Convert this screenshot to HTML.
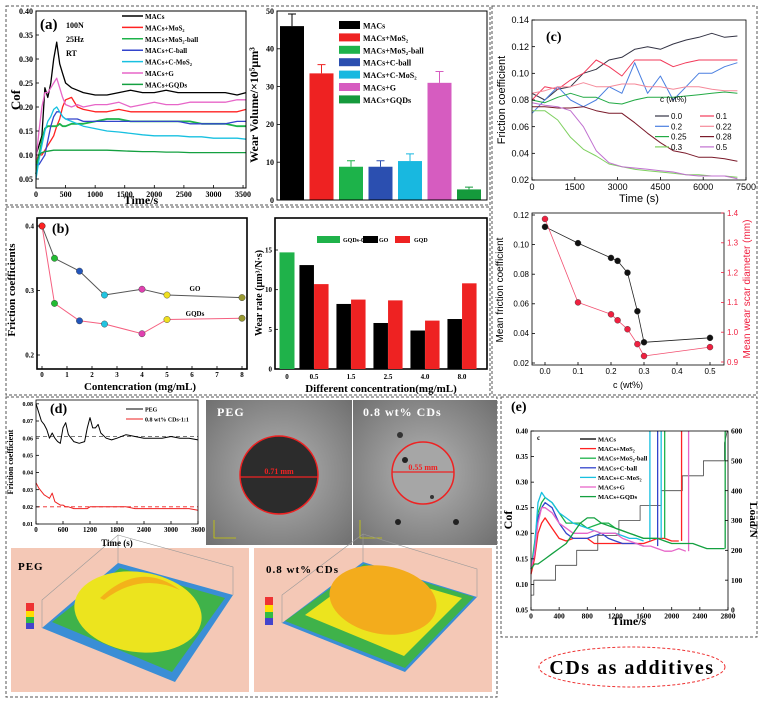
<!DOCTYPE html>
<html><head><meta charset="utf-8">
<style>
html,body{margin:0;padding:0;background:#fff;}
svg{display:block;}
text{font-family:"Liberation Serif",serif;}
.sans{font-family:"Liberation Sans",sans-serif;}
.b{font-weight:bold;}
</style></head>
<body>
<svg id="fig" width="763" height="704" viewBox="0 0 763 704" xmlns="http://www.w3.org/2000/svg">
<defs>
<radialGradient id="micro" cx="50%" cy="50%" r="70%"><stop offset="0" stop-color="#b4b4b4"/><stop offset="1" stop-color="#707070"/></radialGradient>
</defs>
<g fill="none" stroke="#555" stroke-width="1" stroke-dasharray="3,2">
<rect x="6" y="6" width="484" height="199"/>
<rect x="6" y="207" width="484" height="188"/>
<rect x="492" y="6" width="265" height="389"/>
<rect x="6" y="397" width="491" height="300"/>
<rect x="501" y="397" width="256" height="240"/>
</g>
<ellipse cx="632" cy="667" rx="93" ry="20" fill="none" stroke="#e33" stroke-dasharray="3,2"/>
<text x="632" y="674" text-anchor="middle" class="b" font-size="20" letter-spacing="1.5">CDs as additives</text>
<g>
<rect x="206" y="400" width="146" height="145" fill="url(#micro)"/>
<circle cx="279" cy="475" r="39" fill="#2c2c2c" stroke="#e22" stroke-width="1.5"/>
<line x1="240" y1="477" x2="318" y2="477" stroke="#e22" stroke-width="1.2"/>
<text x="279" y="474" text-anchor="middle" fill="#e22" class="b" font-size="8">0.71 mm</text>
<text x="217" y="416" fill="#fff" class="b" font-size="12" letter-spacing="1">PEG</text>
<path d="M214 520 V538 H236" fill="none" stroke="#cc0" stroke-width="0.8"/>
</g>
<g>
<rect x="353" y="400" width="144" height="145" fill="url(#micro)"/>
<circle cx="423" cy="473" r="31" fill="#a6a6a6" stroke="#e22" stroke-width="1.5"/>
<line x1="392" y1="472" x2="454" y2="472" stroke="#e22" stroke-width="1.2"/>
<text x="423" y="470" text-anchor="middle" fill="#e22" class="b" font-size="8">0.55 mm</text>
<text x="363" y="416" fill="#fff" class="b" font-size="12" letter-spacing="1">0.8 wt% CDs</text>
<circle cx="405" cy="460" r="3" fill="#222"/><circle cx="432" cy="497" r="2" fill="#333"/><circle cx="400" cy="435" r="3" fill="#333"/><circle cx="456" cy="522" r="3" fill="#222"/><circle cx="398" cy="522" r="3" fill="#222"/>
<path d="M360 520 V538 H382" fill="none" stroke="#cc0" stroke-width="0.8"/>
</g>
<g>
<rect x="11" y="548" width="238" height="144" fill="#f4c8b6"/>
<path d="M42 628 L118 563 L233 595 L175 682 Z" fill="#3a8ed6"/>
<path d="M52 622 L120 568 L225 598 L172 672 Z" fill="#3fb24a"/>
<ellipse cx="138" cy="612" rx="64" ry="40" transform="rotate(8 138 612)" fill="#ece41e"/>
<path d="M100 598 Q140 560 180 590 Q140 572 104 600 Z" fill="#f3b21a"/>
<path d="M42 628 L42 600 L118 535 L118 563 M118 535 L233 567 L233 595" fill="none" stroke="#999" stroke-width="0.6"/>
<text x="18" y="570" class="b" font-size="11" letter-spacing="1">PEG</text>
<rect x="26" y="603" width="8" height="26" fill="#e33"/><rect x="26" y="611" width="8" height="6" fill="#fd0"/><rect x="26" y="617" width="8" height="6" fill="#3b4"/><rect x="26" y="623" width="8" height="6" fill="#44c"/>
</g>
<g>
<rect x="254" y="548" width="238" height="144" fill="#f4c8b6"/>
<path d="M282 623 L363 562 L477 597 L405 672 Z" fill="#3a8ed6"/>
<path d="M285 621 L364 564 L474 597 L405 668 Z" fill="#3fb24a"/>
<path d="M305 615 L366 570 L462 598 L404 656 Z" fill="#ece41e"/>
<ellipse cx="383" cy="600" rx="54" ry="34" transform="rotate(10 383 600)" fill="#f3ac1c"/>
<path d="M282 623 L282 595 L363 534 L363 562 M363 534 L477 569 L477 597" fill="none" stroke="#999" stroke-width="0.6"/>
<text x="266" y="573" class="b" font-size="11" letter-spacing="1">0.8 wt% CDs</text>
<rect x="265" y="597" width="8" height="28" fill="#e33"/><rect x="265" y="605" width="8" height="7" fill="#fd0"/><rect x="265" y="612" width="8" height="6" fill="#3b4"/><rect x="265" y="618" width="8" height="7" fill="#44c"/>
</g>
</svg>
<script>
const NS='http://www.w3.org/2000/svg';
const svg=document.getElementById('fig');
function mk(tag,attrs){const e=document.createElementNS(NS,tag);for(const k in attrs)e.setAttribute(k,attrs[k]);svg.appendChild(e);return e;}
function lin(d0,d1,r0,r1){return v=>r0+(v-d0)*(r1-r0)/(d1-d0);}
function poly(xs,ys,sx,sy,color,w,name){
  const d=xs.map((x,i)=>(i?'L':'M')+sx(x).toFixed(1)+' '+sy(ys[i]).toFixed(1)).join('');
  const p=mk('path',{d:d,fill:'none',stroke:color,'stroke-width':w,'stroke-linejoin':'round'});
  
  
  return p;
}
function txt(x,y,s,size,anchor,cls,fill,name,rot){
  const t=mk('text',{x:x,y:y,'font-size':size,'text-anchor':anchor,fill:fill||'#000'});
  if(cls)t.setAttribute('class',cls);
  if(rot)t.setAttribute('transform','rotate('+rot+' '+x+' '+y+')');
  t.textContent=s;
  
  
  return t;
}
function frame(x0,y0,x1,y1,w,name){
  const r=mk('rect',{x:x0,y:y0,width:x1-x0,height:y1-y0,fill:'none',stroke:'#000','stroke-width':w});
  
  
}
function xTicks(vals,labels,sx,y,size,cls,name){
  vals.forEach((v,i)=>{
    const l=mk('line',{x1:sx(v),x2:sx(v),y1:y,y2:y-3,stroke:'#000','stroke-width':0.8});
    
    
    txt(sx(v),y+size+1,labels[i],size,'middle',cls,'#000',name+'-label');
  });
}
function yTicks(vals,labels,sy,x,size,cls,name,side,fill){
  vals.forEach((v,i)=>{
    const dx=side==='r'?-3:3;
    const l=mk('line',{x1:x,x2:x+dx,y1:sy(v),y2:sy(v),stroke:fill||'#000','stroke-width':0.8});
    
    
    txt(side==='r'?x+3:x-3,sy(v)+size*0.35,labels[i],size,side==='r'?'start':'end',cls,fill,name+'-label');
  });
}
function dot(x,y,r,color,name){
  const c=mk('circle',{cx:x,cy:y,r:r,fill:color,stroke:'#333','stroke-width':0.4});
  
  
}
function bar(x,y0,y1,w,color,name){
  const r=mk('rect',{x:x-w/2,y:Math.min(y0,y1),width:w,height:Math.abs(y1-y0),fill:color});
  
  
}

const aTime=[0,50,100,150,200,250,300,350,400,450,500,600,700,800,1000,1200,1400,1600,1800,2000,2200,2400,2600,2800,3000,3200,3400,3550];
const aNames=['MACs','MACs+MoS\u2082','MACs+MoS\u2082-ball','MACs+C-ball','MACs+C-MoS\u2082','MACs+G','MACs+GQDs'];
const aColors=['#000','#f22','#1db34a','#3344cc','#18c0e0','#e766c8','#14a040'];
const aMACs=[0.10,0.12,0.14,0.24,0.22,0.25,0.30,0.335,0.29,0.27,0.25,0.24,0.235,0.23,0.225,0.225,0.23,0.235,0.23,0.23,0.235,0.23,0.23,0.23,0.23,0.23,0.225,0.23];
const aMoS2=[0.09,0.10,0.10,0.11,0.12,0.13,0.14,0.16,0.175,0.20,0.215,0.22,0.20,0.195,0.19,0.19,0.195,0.19,0.19,0.19,0.19,0.19,0.19,0.19,0.19,0.19,0.19,0.195];
const aMoS2Ball=[0.06,0.10,0.13,0.155,0.16,0.16,0.16,0.16,0.165,0.16,0.16,0.165,0.165,0.165,0.17,0.175,0.175,0.17,0.17,0.17,0.17,0.17,0.17,0.165,0.165,0.165,0.16,0.16];
const aCBall=[0.08,0.08,0.09,0.10,0.13,0.16,0.18,0.19,0.19,0.18,0.175,0.175,0.175,0.17,0.17,0.17,0.17,0.17,0.17,0.17,0.17,0.17,0.165,0.165,0.165,0.165,0.17,0.17];
const aCMoS2=[0.05,0.09,0.12,0.15,0.17,0.18,0.195,0.20,0.19,0.18,0.175,0.17,0.165,0.16,0.155,0.15,0.148,0.145,0.142,0.14,0.14,0.14,0.138,0.138,0.135,0.135,0.135,0.133];
const aG=[0.09,0.15,0.20,0.23,0.23,0.24,0.25,0.26,0.24,0.22,0.205,0.20,0.205,0.20,0.205,0.205,0.21,0.20,0.205,0.21,0.205,0.205,0.21,0.21,0.21,0.21,0.215,0.215];
const aGQDs=[0.08,0.10,0.105,0.107,0.108,0.109,0.11,0.11,0.11,0.11,0.11,0.11,0.11,0.11,0.11,0.11,0.109,0.108,0.107,0.107,0.106,0.106,0.105,0.105,0.105,0.105,0.105,0.105];
const aXTicks=[0,500,1000,1500,2000,2500,3000,3500];
const aYTicks=[0.05,0.10,0.15,0.20,0.25,0.30,0.35,0.40];
const aBarVals=[46,33.5,8.8,8.8,10.3,31,2.8];
const aBarErr=[3.2,2.3,1.6,1.6,1.9,3,0.6];
const aBarColors=['#000','#ee2222','#1db34a','#2b4fb0','#18b8e0','#d65cc0','#159a3c'];
const aBarYTicks=[0,10,20,30,40,50];

const xA=lin(0,3550,36,246), yA=lin(0.05,0.40,179,11);
[aMACs,aMoS2,aMoS2Ball,aCBall,aCMoS2,aG,aGQDs].forEach((s,i)=>poly(aTime,s,xA,yA,aColors[i],i===2?1.8:1.3,'series-a-'+i));
frame(36,11,246,188,1,'panel-a-plot-frame');
xTicks(aXTicks,aXTicks.map(String),xA,188,8,'b','panel-a-x-tick');
yTicks(aYTicks,aYTicks.map(v=>v.toFixed(2)),yA,36,8,'b','panel-a-y-tick');
txt(141,204,'Time/s',12,'middle','b','#000','panel-a-x-title');
txt(20,100,'Cof',13,'middle','b','#000','panel-a-y-title',-90);
txt(40,29,'(a)',15,'start','b','#000','panel-a-letter');
txt(66,28,'100N',8,'start','b','#000','panel-a-cond-load');
txt(66,42,'25Hz',8,'start','b','#000','panel-a-cond-freq');
txt(66,56,'RT',8,'start','b','#000','panel-a-cond-temp');
aNames.forEach((n,i)=>{
  const y=16+i*11.4;
  const l=mk('line',{x1:122,x2:143,y1:y,y2:y,stroke:aColors[i],'stroke-width':1.5});
  
  
  txt(145,y+3,n,7,'start','b','#000','panel-a-legend-entry');
});
const yAB=lin(0,50,200,11);
const xAB=i=>292+i*29.5;
aBarVals.forEach((v,i)=>{
  bar(xAB(i),yAB(0),yAB(v),24,aBarColors[i],'panel-a-bar-'+i);
  const e=mk('path',{d:'M'+xAB(i)+' '+yAB(v)+'V'+yAB(v+aBarErr[i])+'M'+(xAB(i)-4)+' '+yAB(v+aBarErr[i])+'H'+(xAB(i)+4),stroke:aBarColors[i],'stroke-width':1,fill:'none'});
  
  
});
frame(277,11,487,200,1,'panel-a-bar-frame');
yTicks(aBarYTicks,aBarYTicks.map(String),yAB,277,8,'b','panel-a-bar-y-tick');
txt(258,105,'Wear Volume/\u00d710\u2075\u03bcm\u00b3',12,'middle','b','#000','panel-a-bar-y-title',-90);
aNames.forEach((n,i)=>{
  const y=21+i*12.4;
  const r=mk('rect',{x:339,y:y,width:21,height:8,fill:aBarColors[i]});
  
  
  txt(363,y+7.5,n,8,'start','b','#000','panel-a-bar-legend-entry');
});

const bConc=[0,0.5,1.5,2.5,4,5,8];
const bGO=[0.40,0.35,0.33,0.293,0.302,0.293,0.289];
const bGQDs=[0.40,0.28,0.253,0.248,0.233,0.255,0.257];
const bMarkColors=['#f22','#2b3','#2255bb','#22c4e0','#e040b0','#f0e020','#999930'];
const bXTicks=[0,1,2,3,4,5,6,7,8];
const bYTicks=[0.2,0.3,0.4];
const xB=lin(0,8,42,242), yB=lin(0.2,0.4,355,226);
frame(37,218,247,369,1.6,'panel-b-left-frame');
poly(bConc,bGO,xB,yB,'#555',1,'panel-b-go-line');
poly(bConc,bGQDs,xB,yB,'#f56080',1,'panel-b-gqds-line');
bConc.forEach((c,i)=>{dot(xB(c),yB(bGO[i]),3.2,bMarkColors[i],'panel-b-go-point');dot(xB(c),yB(bGQDs[i]),3.2,bMarkColors[i],'panel-b-gqds-point');});
xTicks(bXTicks,bXTicks.map(String),xB,369,7,'b','panel-b-x-tick');
yTicks(bYTicks,bYTicks.map(v=>v.toFixed(1)),yB,37,7,'b','panel-b-y-tick');
txt(52,233,'(b)',14,'start','b','#000','panel-b-letter');
txt(195,291,'GO',7,'middle','b','#000','panel-b-go-label');
txt(195,316,'GQDs',7,'middle','b','#000','panel-b-gqds-label');
txt(15,290,'Friction coefficients',11,'middle','b','#000','panel-b-y-title',-90);
txt(140,390,'Contencration (mg/mL)',11,'middle','b','#000','panel-b-x-title');
const bCats=['0','0.5','1.5','2.5','4.0','8.0'];
const bGQDs0=[14.7];
const bGOBar=[13.1,8.2,5.8,4.85,6.3];
const bGQDBar=[10.7,8.75,8.65,6.1,10.8];
const bBarYTicks=[0,5,10,15];
const yBR=lin(0,15,369,250);
const xBR=i=>i===0?287:314+37*(i-1);
frame(275,218,487,369,1.6,'panel-b-right-frame');
bar(xBR(0),yBR(0),yBR(bGQDs0[0]),15,'#1fb24a','panel-b-bar-gqds0');
bGOBar.forEach((v,i)=>{bar(xBR(i+1)-7.3,yBR(0),yBR(v),14.5,'#000','panel-b-bar-go');bar(xBR(i+1)+7.3,yBR(0),yBR(bGQDBar[i]),14.5,'#ee2222','panel-b-bar-gqd');});
bCats.forEach((c,i)=>txt(xBR(i),379,c,7,'middle','b','#000','panel-b-bar-x-label'));
yTicks(bBarYTicks,bBarYTicks.map(String),yBR,275,7,'b','panel-b-bar-y-tick');
txt(262,293,'Wear rate (\u03bcm\u00b3/N\u00b7s)',10,'middle','b','#000','panel-b-bar-y-title',-90);
txt(381,392,'Different concentration(mg/mL)',11,'middle','b','#000','panel-b-bar-x-title');
[['#1fb24a',317,'GQDs-0',343],['#000',363,'GO',379],['#ee2222',395,'GQD',414]].forEach(l=>{
  const r=mk('rect',{x:l[1],y:236,width:l[0]==='#1fb24a'?23:15,height:7,fill:l[0]});
  
  
  txt(l[3],242,l[2],6,'start','b','#000','panel-b-bar-legend-entry');
});

const cTime=[0,450,900,1350,1800,2250,2700,3150,3600,4050,4500,4950,5400,5850,6300,6750,7200];
const c00=[0.085,0.08,0.088,0.09,0.10,0.103,0.11,0.112,0.118,0.12,0.118,0.122,0.125,0.127,0.13,0.127,0.128];
const c01=[0.08,0.09,0.088,0.095,0.10,0.11,0.105,0.098,0.11,0.11,0.11,0.105,0.108,0.11,0.11,0.11,0.11];
const c02=[0.07,0.08,0.09,0.08,0.075,0.08,0.09,0.085,0.108,0.085,0.098,0.08,0.09,0.10,0.10,0.105,0.108];
const c022=[0.085,0.087,0.09,0.09,0.093,0.09,0.09,0.092,0.092,0.09,0.09,0.088,0.09,0.09,0.088,0.087,0.087];
const c025=[0.08,0.078,0.082,0.085,0.082,0.082,0.078,0.077,0.08,0.082,0.082,0.082,0.083,0.084,0.085,0.086,0.085];
const c028=[0.075,0.075,0.074,0.074,0.075,0.072,0.07,0.07,0.063,0.055,0.048,0.042,0.04,0.037,0.037,0.036,0.034];
const c03=[0.072,0.072,0.065,0.052,0.043,0.038,0.032,0.03,0.028,0.027,0.026,0.025,0.024,0.024,0.023,0.023,0.022];
const c05=[0.078,0.076,0.075,0.072,0.06,0.042,0.033,0.03,0.029,0.028,0.027,0.026,0.024,0.023,0.023,0.023,0.021];
const cLabels=['0.0','0.1','0.2','0.22','0.25','0.28','0.3','0.5'];
const cColors=['#334','#f23a5a','#4a7fe0','#f58a9a','#22aa44','#7a1a2a','#7fd060','#c070d0'];
const cXTicks=[0,1500,3000,4500,6000,7500];
const cYTicks=[0.02,0.04,0.06,0.08,0.10,0.12,0.14];
const xC=lin(0,7500,532,746), yC=lin(0.02,0.14,180,20);
[c00,c01,c02,c022,c025,c028,c03,c05].forEach((s,i)=>poly(cTime,s,xC,yC,cColors[i],1,'panel-c-series-'+cLabels[i]));
frame(532,20,746,180,0.8,'panel-c-top-frame');
xTicks(cXTicks,cXTicks.map(String),xC,180,9,'sans','panel-c-x-tick');
yTicks(cYTicks,cYTicks.map(v=>v.toFixed(2)),yC,532,9,'sans','panel-c-y-tick');
txt(639,202,'Time (s)',11,'middle','sans','#000','panel-c-x-title');
txt(505,100,'Friction coefficient',11,'middle','sans','#000','panel-c-y-title',-90);
txt(546,41,'(c)',14,'start','b','#000','panel-c-letter');
txt(660,102,'c (wt%)',8,'start','sans','#000','panel-c-legend-title');
cLabels.forEach((n,i)=>{
  const col=i%2, row=Math.floor(i/2);
  const x=col?700:655, y=116+row*10.3;
  const l=mk('line',{x1:x,x2:x+14,y1:y,y2:y,stroke:cColors[i],'stroke-width':1.2});
  
  
  txt(x+16,y+3,n,8,'start','sans','#000','panel-c-legend-entry');
});
const c2Conc=[0,0.1,0.2,0.22,0.25,0.28,0.3,0.5];
const c2Friction=[0.112,0.101,0.091,0.089,0.081,0.055,0.034,0.037];
const c2Scar=[1.38,1.10,1.06,1.04,1.01,0.96,0.92,0.95];
const c2XTicks=[0,0.1,0.2,0.3,0.4,0.5];
const c2YTicks=[0.02,0.04,0.06,0.08,0.10,0.12];
const c2RTicks=[0.9,1.0,1.1,1.2,1.3,1.4];
const xC2=lin(0,0.5,545,710), yC2=lin(0.02,0.12,363,215), yC2R=lin(0.9,1.4,362,213);
frame(532,213,724,365,0.8,'panel-c-bottom-frame');
poly(c2Conc,c2Friction,xC2,yC2,'#222',0.8,'panel-c-friction-line');
poly(c2Conc,c2Scar,xC2,yC2R,'#f25070',0.8,'panel-c-scar-line');
c2Conc.forEach((c,i)=>{dot(xC2(c),yC2(c2Friction[i]),3,'#111','panel-c-friction-point');dot(xC2(c),yC2R(c2Scar[i]),3,'#f02040','panel-c-scar-point');});
xTicks(c2XTicks,c2XTicks.map(v=>v.toFixed(1)),xC2,365,8,'sans','panel-c2-x-tick');
yTicks(c2YTicks,c2YTicks.map(v=>v.toFixed(2)),yC2,532,8,'sans','panel-c2-y-tick');
yTicks(c2RTicks,c2RTicks.map(v=>v.toFixed(1)),yC2R,724,8,'sans','panel-c2-right-tick','r','#f02040');
txt(628,388,'c (wt%)',9,'middle','sans','#000','panel-c2-x-title');
txt(503,290,'Mean friction coefficient',10,'middle','sans','#000','panel-c2-y-title',-90);
txt(750,289,'Mean wear scar diameter (mm)',10,'middle','sans','#f02040','panel-c2-right-title',-90);

const dTime=[0,60,120,180,240,300,360,420,480,540,600,660,720,840,960,1080,1140,1200,1260,1320,1380,1440,1560,1680,1800,2000,2200,2400,2600,2800,3000,3200,3400,3600];
const dPEG=[0.08,0.075,0.07,0.068,0.065,0.06,0.063,0.06,0.058,0.057,0.066,0.069,0.062,0.058,0.057,0.058,0.066,0.072,0.066,0.066,0.068,0.063,0.06,0.059,0.06,0.062,0.061,0.06,0.06,0.06,0.061,0.06,0.06,0.059];
const dCDs=[0.034,0.031,0.029,0.027,0.026,0.025,0.028,0.023,0.022,0.021,0.021,0.02,0.02,0.019,0.019,0.019,0.019,0.02,0.02,0.02,0.02,0.02,0.02,0.02,0.02,0.02,0.019,0.019,0.019,0.019,0.019,0.019,0.019,0.018];
const dRefPEG=[0.061];
const dRefCDs=[0.020];
const dXTicks=[0,600,1200,1800,2400,3000,3600];
const dYTicks=[0.01,0.02,0.03,0.04,0.05,0.06,0.07,0.08];
const xD=lin(0,3600,36,198), yD=lin(0.01,0.07,524,421);
const dl1=mk('line',{x1:36,x2:198,y1:yD(dRefPEG[0]),y2:yD(dRefPEG[0]),stroke:'#666','stroke-dasharray':'4,3','stroke-width':0.8});


const dl2=mk('line',{x1:36,x2:198,y1:yD(dRefCDs[0]),y2:yD(dRefCDs[0]),stroke:'#e22','stroke-dasharray':'4,3','stroke-width':0.8});


poly(dTime,dPEG,xD,yD,'#000',1,'panel-d-peg-series');
poly(dTime,dCDs,xD,yD,'#e22',1,'panel-d-cds-series');
frame(36,400,198,524,0.8,'panel-d-frame');
xTicks(dXTicks,dXTicks.map(String),xD,524,7,'b','panel-d-x-tick');
yTicks(dYTicks,dYTicks.map(v=>v.toFixed(2)),yD,36,6,'b','panel-d-y-tick');
txt(117,546,'Time (s)',9,'middle','b','#000','panel-d-x-title');
txt(13,462,'Friction coefficient',8,'middle','b','#000','panel-d-y-title',-90);
txt(50,413,'(d)',14,'start','b','#000','panel-d-letter');
[['#000','PEG',409],['#e22','0.8 wt% CDs-1:1',419]].forEach(l=>{
  const ln=mk('line',{x1:126,x2:143,y1:l[2],y2:l[2],stroke:l[0],'stroke-width':1});
  
  
  txt(145,l[2]+2.5,l[1],6,'start','b','#000','panel-d-legend-entry');
});

const eLoadTime=[0,40,40,350,350,650,650,950,950,1250,1250,1550,1550,1850,1850,2150,2150,2450,2450,2750,2750,2790];
const eLoad=[50,50,100,100,150,150,200,200,250,250,300,300,350,350,400,400,450,450,500,500,560,600];
const eT=[0,50,100,150,200,300,400,500,600,700,800,900,1000,1100,1200,1300,1400,1500,1600,1700,1800,1900,2000,2100,2200,2300,2400,2500,2600,2700,2750];
const eMoS2=[0.12,0.15,0.20,0.22,0.23,0.21,0.19,0.185,0.19,0.19,0.19,0.18,0.18,0.18,0.18,0.18,0.18,0.18,0.18,0.185,0.19,0.19,0.185,0.185];
const eMoS2Ball=[0.13,0.18,0.24,0.26,0.27,0.26,0.24,0.22,0.22,0.22,0.21,0.215,0.22,0.22,0.21,0.205,0.2,0.195,0.19,0.19,0.19];
const eCBall=[0.13,0.16,0.23,0.25,0.26,0.25,0.22,0.2,0.19,0.19,0.19,0.195,0.2,0.19,0.185,0.18,0.18,0.18,0.175];
const eCMoS2=[0.13,0.17,0.26,0.28,0.27,0.26,0.24,0.23,0.22,0.215,0.21,0.205,0.2,0.2,0.2,0.195,0.19,0.19,0.185];
const eG=[0.13,0.16,0.22,0.25,0.25,0.24,0.22,0.21,0.2,0.2,0.2,0.205,0.2,0.2,0.2,0.19,0.185,0.18,0.175,0.175,0.17,0.165,0.165,0.17,0.165];
const eGQDs=[0.13,0.14,0.14,0.145,0.15,0.16,0.17,0.18,0.2,0.22,0.23,0.23,0.22,0.215,0.21,0.205,0.2,0.195,0.19,0.19,0.19,0.185,0.18,0.18,0.18,0.18,0.175,0.17,0.17,0.17,0.17];
const eFail=[2140,1900,1800,1690,2240,2760];
const eXTicks=[0,400,800,1200,1600,2000,2400,2800];
const eYTicks=[0.05,0.10,0.15,0.20,0.25,0.30,0.35,0.40];
const eRTicks=[0,100,200,300,400,500,600];
const xE=lin(0,2800,531,728), yE=lin(0.05,0.40,610,431), yER=lin(0,600,610,431);
poly(eLoadTime,eLoad,xE,yER,'#444',0.8,'panel-e-load-steps');
[eMoS2,eMoS2Ball,eCBall,eCMoS2,eG,eGQDs].forEach((s,i)=>{
  const col=aColors[i+1];
  const ts=eT.slice(0,s.length);
  poly(ts,s,xE,yE,col,1.3,'panel-e-series-'+i);
  const fl=mk('line',{x1:xE(eFail[i]),x2:xE(eFail[i]),y1:yE(s[s.length-1]),y2:431,stroke:col,'stroke-width':1.3});
  
  
});
const ecm=mk('line',{x1:xE(1850),x2:xE(1850),y1:yE(0.19),y2:431,stroke:'#18c0e0','stroke-width':1.3});


frame(531,431,728,610,0.8,'panel-e-frame');
xTicks(eXTicks,eXTicks.map(String),xE,610,7.5,'b','panel-e-x-tick');
yTicks(eYTicks,eYTicks.map(v=>v.toFixed(2)),yE,531,7,'b','panel-e-y-tick');
yTicks(eRTicks,eRTicks.map(String),yER,728,7.5,'b','panel-e-right-tick','r');
txt(629,625,'Time/s',12,'middle','b','#000','panel-e-x-title');
txt(512,520,'Cof',12,'middle','b','#000','panel-e-y-title',-90);
txt(750,520,'Load/N',11,'middle','b','#000','panel-e-right-title',90);
txt(537,440,'c',7,'start','b','#000','panel-e-sub-letter');
txt(511,411,'(e)',14,'start','b','#000','panel-e-letter');
aNames.forEach((n,i)=>{
  const y=439+i*9.6;
  const l=mk('line',{x1:580,x2:596,y1:y,y2:y,stroke:aColors[i],'stroke-width':1.3});
  
  
  txt(598,y+2.5,n,6.5,'start','b','#000','panel-e-legend-entry');
});
</script>
</body></html>
